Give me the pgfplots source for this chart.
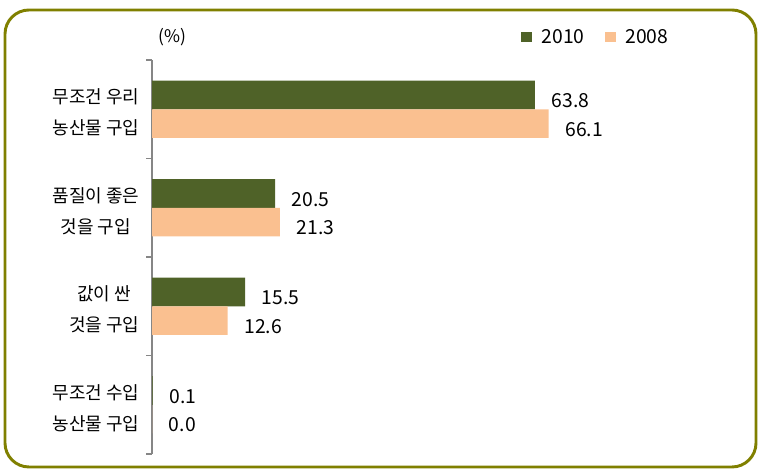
\documentclass[border=0pt]{standalone}
\usepackage{fontspec}
\setmainfont{Noto Sans CJK KR}
\usepackage{pgfplots}
\pgfplotsset{compat=1.18}
\definecolor{olivebar}{RGB}{79,98,40}
\definecolor{peach}{RGB}{250,192,144}
\definecolor{framec}{RGB}{128,128,0}
\definecolor{axgray}{RGB}{134,134,134}
\pgfplotsset{sqlegend/.style={legend image code/.code={\fill[##1] (0pt,-3.75pt) rectangle (8.5pt,3.75pt);}}}
\begin{document}
\begin{tikzpicture}[x=1pt,y=1pt]
\useasboundingbox (0,0) rectangle (573,355.5);
\draw[framec, line width=2.2pt, rounded corners=18pt] (3.75,5.25) rectangle (567,348);
\begin{axis}[
  at={(114pt,15pt)}, anchor=south west,
  scale only axis, width=405pt, height=295.5pt,
  xbar, xmin=0, xmax=90,
  ymin=-0.5, ymax=3.5, y dir=reverse,
  bar width=0.29,
  axis x line=none, axis y line*=left,
  y axis line style={color=axgray, line width=0.8pt},
  ytick={0,1,2,3},
  yticklabels={{무조건 우리\\농산물 구입},{품질이 좋은\\것을 구입},{값이 싼\\것을 구입},{무조건 수입\\농산물 구입}},
  major tick length=0pt,
  minor ytick={-0.5,0.5,1.5,2.5,3.5},
  minor tick length=4.5pt, tick align=outside,
  minor tick style={axgray, line width=0.8pt},
  yticklabel style={align=center, font=\fontsize{13.5}{23}\selectfont, xshift=-6pt, yshift=-2.5pt},
  /pgf/number format/assume math mode=true,
  point meta=x,
  nodes near coords={\pgfmathprintnumber[fixed,fixed zerofill,precision=1]{\pgfplotspointmeta}},
  nodes near coords style={anchor=west, inner sep=0pt, xshift=12.5pt, yshift=-4.5pt, font=\fontsize{14.5}{17}\selectfont, text=black},
  legend columns=2,
  legend style={draw=none, fill=none, inner sep=0pt, at={(0.683,1.058)}, anchor=west,
    font=\fontsize{14.5}{17}\selectfont,
    /tikz/every odd column/.append style={column sep=5pt},
    /tikz/every even column/.append style={column sep=13pt}},
]
\addplot[sqlegend, fill=olivebar, draw=none, bar shift=-0.145] coordinates {(63.8,0) (20.5,1) (15.5,2) (0.1,3)};
\addlegendentry{2010}
\addplot[sqlegend, fill=peach, draw=none, bar shift=0.145] coordinates {(66.1,0) (21.3,1) (12.6,2) (0.0,3)};
\addlegendentry{2008}
\end{axis}
\node[font=\fontsize{13}{15}\selectfont] at (129.4,327.75) {(\%)};
\end{tikzpicture}
\end{document}
